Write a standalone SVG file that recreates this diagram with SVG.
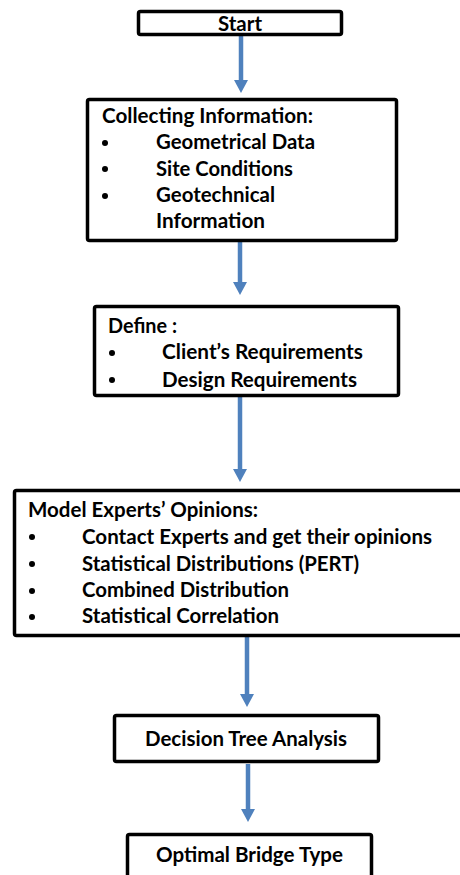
<svg xmlns="http://www.w3.org/2000/svg" width="460" height="875" viewBox="0 0 460 875">
<style>
.box{fill:#fff;stroke:#000;stroke-width:3.5}
.t{font-family:Lato,"Liberation Sans",sans-serif;font-weight:bold;font-size:20px;fill:#000}
.c{text-anchor:middle}
.arr{stroke:#4F81BD;stroke-width:4.5;fill:none}
.b{fill:#000}
</style>
<defs>
<marker id="ah" markerUnits="userSpaceOnUse" markerWidth="13" markerHeight="14" refX="0" refY="7" orient="auto" viewBox="0 0 13 14">
<path d="M0,0 L13,7 L0,14 z" fill="#4F81BD"/>
</marker>
</defs>
<rect width="460" height="875" fill="#fff"/>
<g id="connectors">
<line class="arr" x1="241" y1="36" x2="241" y2="80" marker-end="url(#ah)"/>
<line class="arr" x1="240" y1="242" x2="240" y2="282" marker-end="url(#ah)"/>
<line class="arr" x1="240" y1="397" x2="240" y2="469" marker-end="url(#ah)"/>
<line class="arr" x1="247" y1="637" x2="247" y2="694" marker-end="url(#ah)"/>
<line class="arr" x1="248" y1="764" x2="248" y2="809" marker-end="url(#ah)"/>
</g>
<g id="start">
<rect class="box" x="138.5" y="11.5" width="203" height="23" rx="2"/>
<text class="t c" x="240" y="31" textLength="44" lengthAdjust="spacingAndGlyphs">Start</text>
</g>
<g id="collecting">
<rect class="box" x="87.5" y="99.5" width="309" height="141" rx="2"/>
<text class="t" x="102" y="123" textLength="211" lengthAdjust="spacingAndGlyphs">Collecting Information:</text>
<circle class="b" cx="105" cy="143" r="3"/>
<circle class="b" cx="105" cy="169" r="3"/>
<circle class="b" cx="105" cy="196" r="3"/>
<text class="t" x="156" y="149" textLength="159" lengthAdjust="spacingAndGlyphs">Geometrical Data</text>
<text class="t" x="156" y="176" textLength="137" lengthAdjust="spacingAndGlyphs">Site Conditions</text>
<text class="t" x="156" y="202" textLength="119" lengthAdjust="spacingAndGlyphs">Geotechnical</text>
<text class="t" x="156" y="228" textLength="109" lengthAdjust="spacingAndGlyphs">Information</text>
</g>
<g id="define">
<rect class="box" x="94.5" y="306.5" width="304" height="89" rx="2"/>
<text class="t" x="108" y="333" textLength="69" lengthAdjust="spacingAndGlyphs">Define :</text>
<circle class="b" cx="112" cy="353" r="3"/>
<circle class="b" cx="112" cy="380" r="3"/>
<text class="t" x="162" y="359" textLength="201" lengthAdjust="spacingAndGlyphs">Client’s Requirements</text>
<text class="t" x="162" y="387" textLength="195" lengthAdjust="spacingAndGlyphs">Design Requirements</text>
</g>
<g id="model">
<rect class="box" x="14.5" y="490.5" width="460" height="145" rx="2"/>
<text class="t" x="28" y="517" textLength="230" lengthAdjust="spacingAndGlyphs">Model Experts’ Opinions:</text>
<circle class="b" cx="32" cy="537" r="3"/>
<circle class="b" cx="32" cy="564" r="3"/>
<circle class="b" cx="32" cy="591" r="3"/>
<circle class="b" cx="32" cy="617" r="3"/>
<text class="t" x="82" y="544" textLength="350" lengthAdjust="spacingAndGlyphs">Contact Experts and get their opinions</text>
<text class="t" x="82" y="571" textLength="277" lengthAdjust="spacingAndGlyphs">Statistical Distributions (PERT)</text>
<text class="t" x="82" y="597" textLength="207" lengthAdjust="spacingAndGlyphs">Combined Distribution</text>
<text class="t" x="82" y="623" textLength="197" lengthAdjust="spacingAndGlyphs">Statistical Correlation</text>
</g>
<g id="decision">
<rect class="box" x="114.5" y="715.5" width="264" height="46" rx="2"/>
<text class="t" x="145" y="746" textLength="202" lengthAdjust="spacingAndGlyphs">Decision Tree Analysis</text>
</g>
<g id="optimal">
<rect class="box" x="127.5" y="834.5" width="244" height="60" rx="2"/>
<text class="t" x="156" y="862" textLength="187" lengthAdjust="spacingAndGlyphs">Optimal Bridge Type</text>
</g>
</svg>
